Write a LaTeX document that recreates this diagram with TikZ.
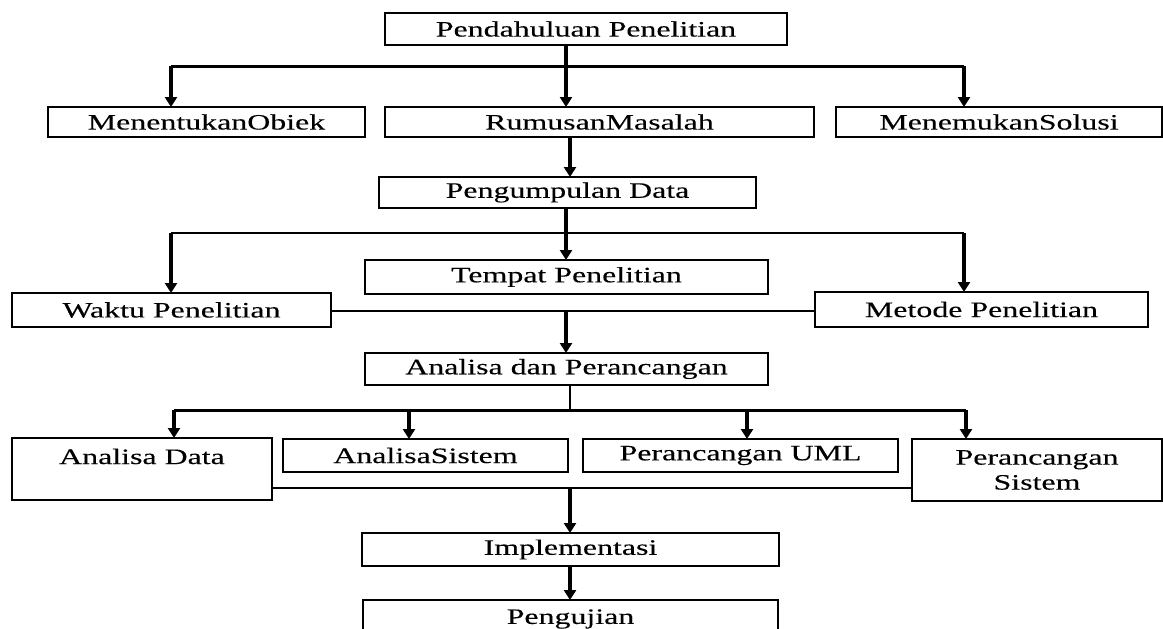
\documentclass[tikz,border=0pt]{standalone}
\usepackage{fontspec}
\setmainfont{Liberation Serif}[FakeStretch=1.45,FakeBold=0.15]
\usetikzlibrary{arrows.meta}
\begin{document}
\begin{tikzpicture}[x=1pt,y=-1pt,
  txt/.style={font=\fontsize{22}{25}\selectfont},
  box/.style={txt, draw=black, line width=2.8pt, fill=white, inner sep=0pt, outer sep=0pt,
              align=center},
  arr/.style={line width=3.4pt, -{Triangle[length=10pt,width=12pt]}},
  hthick/.style={line width=3pt},
  hthin/.style={line width=1.3pt}]
\useasboundingbox (0,0) rectangle (1163,629);
\clip (0,0) rectangle (1163,629);
\fill[white] (0,0) rectangle (1163,629);

% nodes
\node[box,minimum width=402,minimum height=32] (pend) at (586,29) {Pendahuluan Penelitian};
\node[box,minimum width=317,minimum height=30] (obj) at (206.5,122) {MenentukanObiek};
\node[box,minimum width=429,minimum height=30] (rum) at (599.5,122) {RumusanMasalah};
\node[box,minimum width=326,minimum height=30] (sol) at (999,122) {MenemukanSolusi};
\node[box,minimum width=377,minimum height=31] (kump) at (567.5,192.5) {Pengumpulan Data};
\node[box,minimum width=403,minimum height=34] (tempat) at (566.5,277) {Tempat Penelitian};
\node[box,minimum width=319,minimum height=34] (waktu) at (171.5,310) {Waktu Penelitian};
\node[box,minimum width=333,minimum height=35] (metode) at (981.5,309.5) {Metode Penelitian};
\node[box,minimum width=403,minimum height=32] (anal) at (566.5,369) {Analisa dan Perancangan};
\node[box,minimum width=260,minimum height=62] (adata) at (142,469) {Analisa Data\\\phantom{Sistem}};
\node[box,minimum width=285,minimum height=33] (asis) at (425.5,455.5) {AnalisaSistem};
\node[box,minimum width=315,minimum height=33] (uml) at (740.5,455.5) {Perancangan UML};
\node[box,minimum width=250,minimum height=62] (psis) at (1037,470) {Perancangan\\Sistem};
\node[box,minimum width=417,minimum height=33] (impl) at (570.5,549.5) {Implementasi};
\node[box,minimum width=415,minimum height=50] (uji) at (570.5,625) {};
\node[txt, inner sep=0pt] (ujit) at (570.5,619) {Pengujian};

% junction coordinates
\coordinate (j1) at (566,66);
\coordinate (b1L) at (171,66);
\coordinate (b1R) at (964,66);
\coordinate (x2) at (570,0);
\coordinate (j3) at (566,233);
\coordinate (b3L) at (171,233);
\coordinate (b3R) at (964,233);
\coordinate (j4) at (566,311);
\coordinate (j5) at (570,410);
\coordinate (b5a) at (174,410);
\coordinate (b5b) at (409,410);
\coordinate (b5c) at (747,410);
\coordinate (b5d) at (966,410);
\coordinate (j6) at (570,488);

% level 1
\draw[hthick] (b1L) -- (b1R);
\draw[arr] (pend.south -| j1) -- (j1 |- rum.north);
\draw[arr] (b1L) -- (b1L |- obj.north);
\draw[arr] (b1R) -- (b1R |- sol.north);
% level 2
\draw[arr] (rum.south -| x2) -- (x2 |- kump.north);
% level 3
\draw[hthin] (b3L) -- (b3R);
\draw[arr] (kump.south -| j3) -- (j3 |- tempat.north);
\draw[arr] (b3L) -- (b3L |- waktu.north);
\draw[arr] (b3R) -- (b3R |- metode.north);
% level 4
\draw[hthin] (waktu.east |- j4) -- (metode.west |- j4);
\draw[arr] (j4) -- (j4 |- anal.north);
% level 5
\draw[hthin] (anal.south -| j5) -- (j5);
\draw[hthick] (b5a) -- (b5d);
\draw[arr] (b5a) -- (b5a |- adata.north);
\draw[arr] (b5b) -- (b5b |- asis.north);
\draw[arr] (b5c) -- (b5c |- uml.north);
\draw[arr] (b5d) -- (b5d |- psis.north);
% level 6
\draw[hthin] (adata.east |- j6) -- (psis.west |- j6);
\draw[arr] (j6) -- (j6 |- impl.north);
\draw[arr] (impl.south -| x2) -- (x2 |- uji.north);
\end{tikzpicture}
\end{document}
